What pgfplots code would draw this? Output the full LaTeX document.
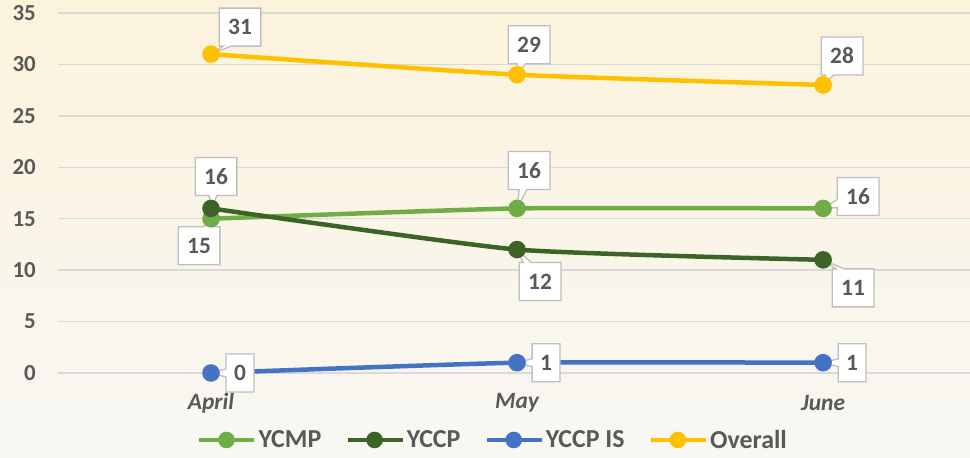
\documentclass[border=0pt]{standalone}
\usepackage{pgfplots}
\pgfplotsset{compat=1.18}
\usepackage{fontspec}
\setmainfont{Carlito}
\usetikzlibrary{shapes.callouts}
\definecolor{ycmp}{HTML}{70AD47}
\definecolor{yccp}{HTML}{3D6428}
\definecolor{yccpis}{HTML}{4472C4}
\definecolor{overall}{HTML}{FFC000}
\definecolor{txtgray}{HTML}{595959}
\definecolor{gridc}{HTML}{D9D9D9}
\definecolor{boxc}{HTML}{BFBFBF}
\definecolor{bgtop}{HTML}{FCF3DC}
\definecolor{bgbot}{HTML}{F8F7F3}
\tikzset{lbl/.style={rectangle callout, draw=boxc, line width=1.3bp, fill=white, text=txtgray,
    font=\fontsize{23.5}{26}\selectfont\bfseries, inner xsep=9bp, minimum height=38bp, callout pointer width=8bp}}
\begin{document}
\begin{tikzpicture}
\shade[top color=bgtop, bottom color=bgbot] (0,0) rectangle (970bp,458bp);
\useasboundingbox (0,0) rectangle (970bp,458bp);
\begin{axis}[
  at={(58bp,85bp)}, anchor=south west,
  scale only axis, width=912bp, height=360bp,
  xmin=-0.5, xmax=2.48, ymin=0, ymax=35,
  ytick={0,5,...,35},
  xtick={0,1,2}, xticklabels={April,May,June},
  axis line style={draw=none},
  major tick length=0pt,
  ymajorgrids, grid style={color=gridc, line width=1.3bp},
  clip=false,
  /pgf/number format/assume math mode=true,
  yticklabel style={font=\fontsize{23}{26}\selectfont\bfseries, text=txtgray, anchor=east, inner sep=0pt, xshift=-22bp},
  xticklabel style={font=\fontsize{23.5}{26}\selectfont\bfseries\itshape, text=txtgray, anchor=center, inner sep=0pt, yshift=-30bp},
  every axis plot/.append style={line width=4.5bp, mark=*, mark size=6.5bp, smooth, tension=0.3},
  legend columns=4,
  legend style={at={(rel axis cs:0.477,-0.186)}, anchor=center, draw=none, fill=none,
    font=\fontsize{26}{28}\selectfont\bfseries, text=txtgray,
    /tikz/every even column/.append style={column sep=22bp},
    nodes={inner sep=2bp}},
  legend image code/.code={\draw[mark repeat=2,mark phase=2,mark size=6bp,#1] plot coordinates {(0bp,0bp)(27bp,0bp)(55bp,0bp)};},
]
\addplot[color=ycmp] coordinates {(0,15) (1,16) (2,16)};
\addlegendentry{YCMP}
\addplot[color=yccp] coordinates {(0,16) (1,12) (2,11)};
\addlegendentry{YCCP}
\addplot[color=yccpis] coordinates {(0,0) (1,1) (2,1)};
\addlegendentry{YCCP IS}
\addplot[color=overall] coordinates {(0,31) (1,29) (2,28)};
\addlegendentry{Overall}

\node[lbl, callout absolute pointer={(axis cs:0,31)}] at ([shift={(29bp,27bp)}]axis cs:0,31) {31};
\node[lbl, callout absolute pointer={(axis cs:1,29)}] at ([shift={(12bp,30bp)}]axis cs:1,29) {29};
\node[lbl, callout absolute pointer={(axis cs:2,28)}] at ([shift={(19bp,29bp)}]axis cs:2,28) {28};
\node[lbl, callout absolute pointer={(axis cs:0,16)}] at ([shift={(5bp,32bp)}]axis cs:0,16) {16};
\node[lbl, callout absolute pointer={(axis cs:0,15)}] at ([shift={(-12bp,-27bp)}]axis cs:0,15) {15};
\node[lbl, callout absolute pointer={(axis cs:1,16)}] at ([shift={(12bp,38bp)}]axis cs:1,16) {16};
\node[lbl, callout absolute pointer={(axis cs:1,12)}] at ([shift={(23bp,-32bp)}]axis cs:1,12) {12};
\node[lbl, callout absolute pointer={(axis cs:2,16)}] at ([shift={(35bp,12bp)}]axis cs:2,16) {16};
\node[lbl, callout absolute pointer={(axis cs:2,11)}] at ([shift={(30bp,-28bp)}]axis cs:2,11) {11};
\node[lbl, inner xsep=8bp, callout absolute pointer={(axis cs:0,0)}] at ([shift={(29bp,0bp)}]axis cs:0,0) {0};
\node[lbl, inner xsep=8bp, callout absolute pointer={(axis cs:1,1)}] at ([shift={(29bp,0bp)}]axis cs:1,1) {1};
\node[lbl, inner xsep=8bp, callout absolute pointer={(axis cs:2,1)}] at ([shift={(29bp,0bp)}]axis cs:2,1) {1};
\end{axis}
\end{tikzpicture}
\end{document}
